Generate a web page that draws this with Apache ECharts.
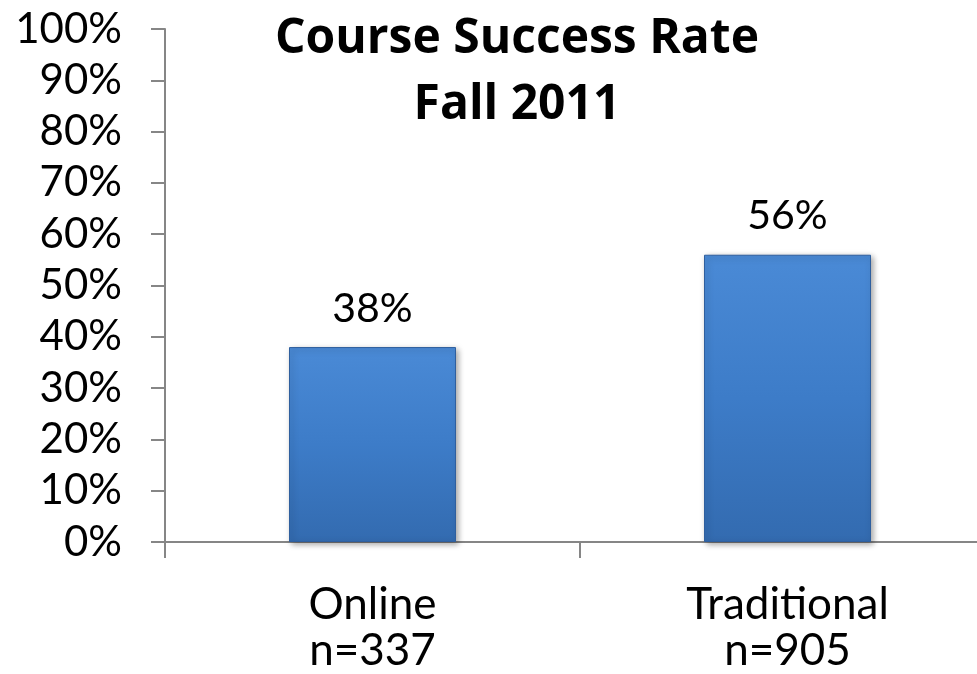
<!DOCTYPE html>
<html>
<head>
<meta charset="utf-8">
<script src="https://cdn.jsdelivr.net/npm/echarts@6/dist/echarts.min.js"></script>
<style>
  html, body { margin: 0; padding: 0; background: #fff; }
  #main { width: 977px; height: 674px; }
</style>
</head>
<body>
<div id="main"></div>
<script>
  // chart data
  var categories = ['Online\nn=337', 'Traditional\nn=905'];
  var rates = [38, 56];

  var chart = echarts.init(document.getElementById('main'));
  chart.setOption({
    animation: false,
    title: {
      text: 'Course Success Rate\nFall 2011',
      left: 512,
      textAlign: 'center',
      top: 1,
      textStyle: {
        fontFamily: 'Open Sans',
        fontWeight: 'bold',
        fontSize: 48,
        lineHeight: 66,
        color: '#000'
      }
    },
    // grid runs a little past the right edge, as in the original
    grid: { left: 165, width: 830, top: 29, height: 513, outerBoundsMode: 'none', containLabel: false },
    xAxis: {
      type: 'category',
      data: categories,
      axisLine: { lineStyle: { color: '#868686', width: 2 } },
      axisTick: { show: true, length: 16, lineStyle: { color: '#868686', width: 2 } },
      axisLabel: {
        fontFamily: 'Lato',
        fontSize: 44,
        lineHeight: 46,
        color: '#000',
        margin: 40
      }
    },
    yAxis: {
      type: 'value',
      min: 0,
      max: 100,
      interval: 10,
      axisLine: { show: true, lineStyle: { color: '#868686', width: 2 } },
      axisTick: { show: true, length: 14, lineStyle: { color: '#868686', width: 2 } },
      splitLine: { show: false },
      axisLabel: {
        formatter: '{value}%',
        fontFamily: 'Lato',
        fontSize: 42,
        color: '#000',
        margin: 43
      }
    },
    series: [{
      type: 'bar',
      data: rates,
      barWidth: 167,
      itemStyle: {
        color: new echarts.graphic.LinearGradient(0, 0, 0, 1, [
          { offset: 0, color: '#4a8ad6' },
          { offset: 0.5, color: '#3d7cc8' },
          { offset: 1, color: '#336bb0' }
        ]),
        borderColor: '#2f5f9e',
        borderWidth: 1,
        shadowColor: 'rgba(0,0,0,0.35)',
        shadowBlur: 6,
        shadowOffsetX: 2,
        shadowOffsetY: 2
      },
      label: {
        show: true,
        position: 'top',
        distance: 18,
        formatter: '{c}%',
        fontFamily: 'Lato',
        fontSize: 41,
        color: '#000'
      }
    }]
  });
</script>
</body>
</html>
